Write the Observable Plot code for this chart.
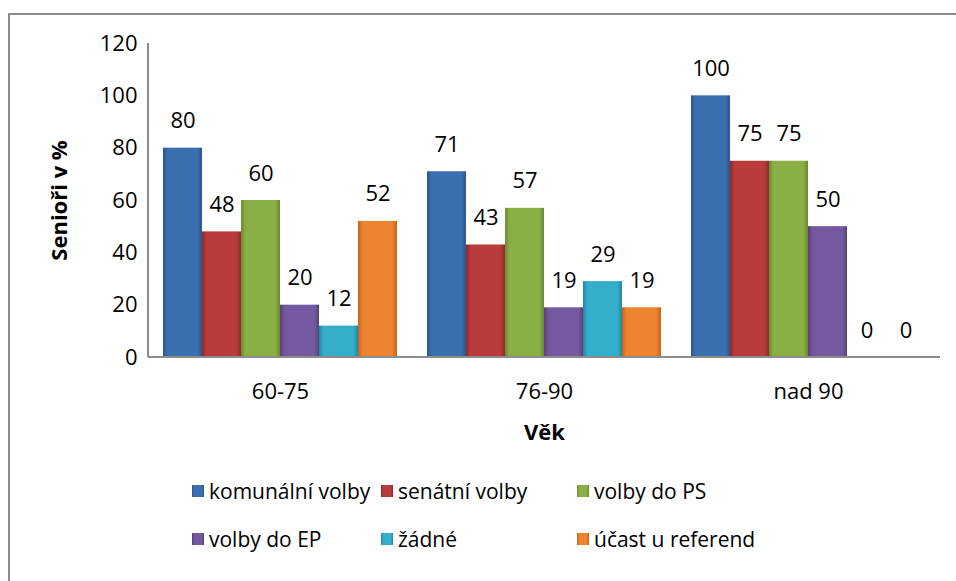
<!DOCTYPE html>
<html>
<head>
<meta charset="utf-8">
<script src="https://cdn.jsdelivr.net/npm/d3@7"></script>
<script src="https://cdn.jsdelivr.net/npm/@observablehq/plot@0.6"></script>
<style>
  html, body { margin: 0; padding: 0; background: #fff; overflow: hidden; }
  #wrap { position: relative; width: 956px; height: 581px; font-family: "Open Sans", sans-serif; }
  #frame { position: absolute; left: 8px; top: 13px; width: 960px; height: 600px; border: 2px solid #8c8c8c; box-sizing: border-box; pointer-events: none; }
  #chart { position: absolute; left: 0; top: 0; }
  .leg { position: absolute; display: flex; align-items: center; font-size: 21px; color: #000; white-space: nowrap; }
  .leg .sw { width: 12px; height: 12px; margin-right: 5px; }
</style>
</head>
<body>
<div id="wrap">
  <div id="chart"></div>
  <div id="frame"></div>
  <div id="legend"></div>
</div>
<script>
const ages = ["60-75", "76-90", "nad 90"];
const series = ["komunální volby", "senátní volby", "volby do PS", "volby do EP", "žádné", "účast u referend"];
const values6075 = [80, 48, 60, 20, 12, 52];
const values7690 = [71, 43, 57, 19, 29, 19];
const valuesNad90 = [100, 75, 75, 50, 0, 0];
const yTicks = [0, 20, 40, 60, 80, 100, 120];
const baseColors = ["#3A6FB0", "#B83C39", "#8BAF45", "#7559A0", "#34AECB", "#EC8430"];
const edgeColors = ["#2B5590", "#8E2A28", "#6B8A30", "#56407A", "#2387A0", "#C0641C"];

const valueRows = [values6075, values7690, valuesNad90];
const data = ages.flatMap((a, i) => series.map((s, j) => ({age: a, series: s, value: valueRows[i][j]})));

const W = 956, H = 581;
const mL = 148, mR = 16, mT = 43, mB = 224;
const groupStep = (W - mL - mR) / ages.length;

const svg = Plot.plot({
  width: W,
  height: H,
  marginLeft: mL,
  marginRight: mR,
  marginTop: mT,
  marginBottom: mB,
  style: {fontFamily: "Open Sans, sans-serif", fontSize: "22px", color: "#000", background: "transparent"},
  fx: {domain: ages, paddingInner: 30 / groupStep, paddingOuter: 15 / groupStep, axis: null, label: null},
  x: {domain: series, padding: 0, axis: null, label: null},
  y: {domain: [0, 120], axis: null, label: null},
  color: {domain: series, range: series.map((s, i) => `url(#grad${i})`)},
  marks: [
    Plot.barY(data, {fx: "age", x: "series", y: "value", fill: "series", inset: 0}),
    Plot.text(data, {fx: "age", x: "series", y: "value", text: d => String(d.value), dy: -27, fontSize: 22, fill: "#000"}),
    Plot.axisY({ticks: yTicks, tickSize: 0, tickPadding: 26, fontSize: 22, label: "Senioři v %", labelAnchor: "center", labelOffset: 112, labelArrow: "none"}),
    Plot.axisFx({anchor: "bottom", tickSize: 0, tickPadding: 26, fontSize: 22, label: "Věk", labelAnchor: "center", labelOffset: 82, labelArrow: "none"})
  ]
});

// gradients for bevel look
const root = d3.select(svg);
const defs = root.insert("defs", ":first-child");
baseColors.forEach((c, i) => {
  const g = defs.append("linearGradient").attr("id", `grad${i}`).attr("x1", "0").attr("x2", "1").attr("y1", "0").attr("y2", "0");
  g.append("stop").attr("offset", "0").attr("stop-color", edgeColors[i]);
  g.append("stop").attr("offset", "0.12").attr("stop-color", c);
  g.append("stop").attr("offset", "0.88").attr("stop-color", c);
  g.append("stop").attr("offset", "1").attr("stop-color", edgeColors[i]);
});

// bold axis titles
root.selectAll("g[aria-label='y-axis label'] text, g[aria-label='fx-axis label'] text").attr("font-weight", "bold");

// axis lines from the library's scales
const ys = svg.scale("y");
const y0 = ys.apply(0), yTop = ys.apply(120);
root.append("line").attr("x1", mL).attr("x2", mL).attr("y1", yTop).attr("y2", y0).attr("stroke", "#8c8c8c").attr("stroke-width", 2);
root.append("line").attr("x1", mL).attr("x2", W - mR).attr("y1", y0).attr("y2", y0).attr("stroke", "#8c8c8c").attr("stroke-width", 2);

document.getElementById("chart").appendChild(svg);

// legend
const legendPos = [[192, 491], [381, 491], [577, 491], [192, 539], [381, 539], [577, 539]];
const legend = document.getElementById("legend");
series.forEach((s, i) => {
  const item = document.createElement("div");
  item.className = "leg";
  item.style.left = legendPos[i][0] + "px";
  item.style.top = (legendPos[i][1] - 15) + "px";
  item.style.height = "30px";
  const sw = document.createElement("span");
  sw.className = "sw";
  sw.style.background = `linear-gradient(to right, ${edgeColors[i]}, ${baseColors[i]} 20%, ${baseColors[i]} 80%, ${edgeColors[i]})`;
  const t = document.createElement("span");
  t.textContent = s;
  item.appendChild(sw);
  item.appendChild(t);
  legend.appendChild(item);
});
</script>
</body>
</html>
